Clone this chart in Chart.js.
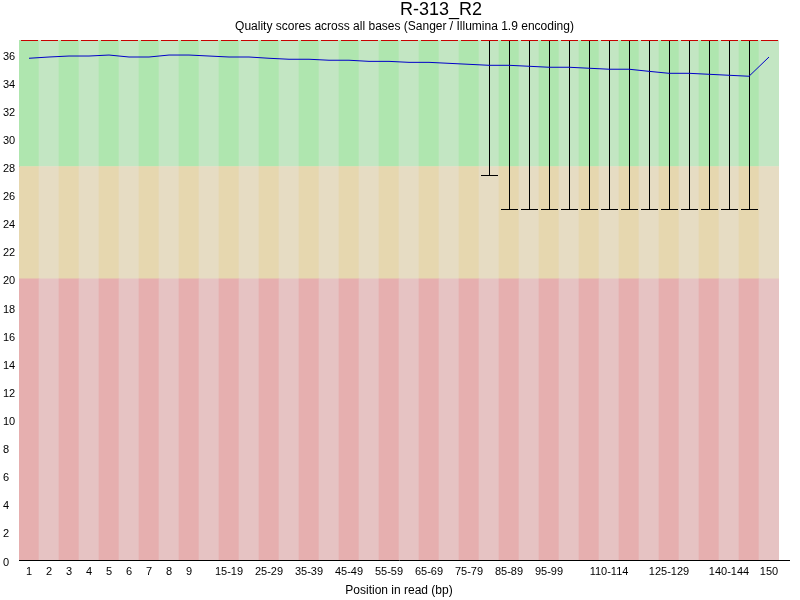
<!DOCTYPE html>
<html><head><meta charset="utf-8">
<script src="https://cdn.jsdelivr.net/npm/chart.js@4/dist/chart.umd.min.js"></script>
<style>html,body{margin:0;padding:0;background:#fff}canvas{display:block}</style>
</head><body>
<canvas id="c" width="800" height="600"></canvas>
<script>
const chartTitle = 'R-313_R2';
const chartSubtitle = 'Quality scores across all bases (Sanger / Illumina 1.9 encoding)';
const xAxisTitle = 'Position in read (bp)';

const categories = ['1','2','3','4','5','6','7','8','9','10-14','15-19','20-24','25-29','30-34','35-39','40-44','45-49','50-54','55-59','60-64','65-69','70-74','75-79','80-84','85-89','90-94','95-99','100-104','105-109','110-114','115-119','120-124','125-129','130-134','135-139','140-144','145-149','150'];
const shownTickLabels = ['1','2','3','4','5','6','7','8','9','15-19','25-29','35-39','45-49','55-59','65-69','75-79','85-89','95-99','110-114','125-129','140-144','150'];

const meanQuality = [35.70,35.79,35.86,35.86,35.93,35.79,35.79,35.93,35.93,35.86,35.79,35.79,35.70,35.63,35.63,35.56,35.56,35.48,35.48,35.41,35.41,35.34,35.27,35.20,35.20,35.13,35.06,35.06,34.99,34.92,34.92,34.77,34.63,34.63,34.56,34.49,34.42,35.79];
const medianQuality = [37,37,37,37,37,37,37,37,37,37,37,37,37,37,37,37,37,37,37,37,37,37,37,37,37,37,37,37,37,37,37,37,37,37,37,37,37,37];
const lowerQuartile = [37,37,37,37,37,37,37,37,37,37,37,37,37,37,37,37,37,37,37,37,37,37,37,37,37,37,37,37,37,37,37,37,37,37,37,37,37,37];
const upperQuartile = [37,37,37,37,37,37,37,37,37,37,37,37,37,37,37,37,37,37,37,37,37,37,37,37,37,37,37,37,37,37,37,37,37,37,37,37,37,37];
const lowerWhisker = [37,37,37,37,37,37,37,37,37,37,37,37,37,37,37,37,37,37,37,37,37,37,37,27.4,25,25,25,25,25,25,25,25,25,25,25,25,25,37];
const upperWhisker = [37,37,37,37,37,37,37,37,37,37,37,37,37,37,37,37,37,37,37,37,37,37,37,37,37,37,37,37,37,37,37,37,37,37,37,37,37,37];

const zoneBounds = [0, 20, 28, 37];
const zoneDark = ['rgb(230,175,175)', 'rgb(230,215,175)', 'rgb(175,230,175)'];
const zoneLight = ['rgb(230,195,195)', 'rgb(230,220,195)', 'rgb(195,230,195)'];

const FONT = "'Liberation Sans', Arial, sans-serif";
Chart.defaults.font.family = FONT;
Chart.defaults.color = '#000';

const zoneDatasets = [0, 1, 2].map(z => ({
  type: 'bar',
  data: categories.map(() => [zoneBounds[z], zoneBounds[z + 1]]),
  backgroundColor: ctx => (ctx.dataIndex % 2 === 0 ? zoneDark[z] : zoneLight[z]),
  borderWidth: 0,
  barPercentage: 1,
  categoryPercentage: 1,
  grouped: false,
  order: 2
}));

const boxPlugin = {
  id: 'boxWhiskers',
  beforeDatasetDraw(chart, args) {
    if (args.meta.type !== 'line') return;
    const xs = chart.scales.x, ys = chart.scales.y, ctx = chart.ctx;
    const px = v => Math.round(ys.getPixelForValue(v)) + 0.5;
    ctx.save();
    ctx.lineWidth = 1;
    categories.forEach((c, i) => {
      const cx = Math.round(xs.getPixelForValue(i)) + 0.5;
      const yLo = px(lowerWhisker[i]), yHi = px(upperWhisker[i]);
      const q1 = px(lowerQuartile[i]), q3 = px(upperQuartile[i]);
      // whisker
      ctx.strokeStyle = '#000';
      ctx.beginPath();
      ctx.moveTo(cx, yHi); ctx.lineTo(cx, yLo);
      ctx.moveTo(cx - 8.5, yLo); ctx.lineTo(cx + 8.5, yLo);
      ctx.moveTo(cx - 8.5, yHi); ctx.lineTo(cx + 8.5, yHi);
      ctx.stroke();
      // box
      if (q1 - q3 > 0) {
        ctx.fillStyle = 'rgb(240,240,0)';
        ctx.fillRect(cx - 8.5, q3, 17, q1 - q3);
        ctx.strokeRect(cx - 8.5, q3, 17, q1 - q3);
      }
      // median
      const ym = px(medianQuality[i]);
      ctx.strokeStyle = 'rgb(200,0,0)';
      ctx.beginPath();
      ctx.moveTo(cx - 8.5, ym); ctx.lineTo(cx + 8.5, ym);
      ctx.stroke();
    });
    ctx.restore();
  },
  afterDraw(chart) {
    const ctx = chart.ctx, a = chart.chartArea;
    ctx.save();
    // x axis line extends beyond plot like the original
    ctx.strokeStyle = '#000';
    ctx.lineWidth = 1;
    ctx.beginPath();
    ctx.moveTo(a.right, Math.round(a.bottom) + 0.5);
    ctx.lineTo(chart.width - 10, Math.round(a.bottom) + 0.5);
    ctx.stroke();
    ctx.fillStyle = '#000';
    ctx.font = '18px ' + FONT;
    ctx.textAlign = 'left';
    ctx.textBaseline = 'alphabetic';
    ctx.fillText(chartTitle, chart.width / 2, 15);
    ctx.font = '12px ' + FONT;
    ctx.textAlign = 'center';
    ctx.fillText(chartSubtitle, (a.left + chart.width - 10) / 2, 30);
    ctx.restore();
  }
};

new Chart(document.getElementById('c'), {
  type: 'bar',
  data: {
    labels: categories,
    datasets: [
      {
        type: 'line',
        data: meanQuality,
        borderColor: 'rgb(0,0,200)',
        borderWidth: 1,
        pointRadius: 0,
        tension: 0,
        fill: false,
        order: 0
      },
      ...zoneDatasets
    ]
  },
  options: {
    responsive: false,
    animation: false,
    devicePixelRatio: 1,
    layout: { padding: { left: 3, right: 21, top: 40, bottom: 0 } },
    plugins: {
      legend: { display: false },
      tooltip: { enabled: false },
      title: { display: false }
    },
    scales: {
      x: {
        type: 'category',
        offset: true,
        grid: { display: false, drawTicks: false, tickLength: 0 },
        border: { display: true, color: '#000', width: 1 },
        ticks: {
          autoSkip: false,
          maxRotation: 0,
          minRotation: 0,
          padding: 5,
          color: '#000',
          font: { size: 11, family: FONT },
          callback: function (value) {
            const label = this.getLabelForValue(value);
            return shownTickLabels.includes(label) ? label : '';
          }
        },
        title: {
          display: true,
          text: xAxisTitle,
          color: '#000',
          font: { size: 12, family: FONT },
          padding: { top: 0, bottom: 2 }
        },
        afterFit: s => { s.height = 40; }
      },
      y: {
        type: 'linear',
        min: 0,
        max: 37,
        grid: { display: false, drawTicks: false },
        border: { display: true, color: '#000', width: 1 },
        ticks: {
          stepSize: 2,
          includeBounds: false,
          crossAlign: 'far',
          labelOffset: 2.5,
          color: '#000',
          font: { size: 11, family: FONT }
        },
        afterFit: s => { s.width = 16; }
      }
    }
  },
  plugins: [boxPlugin]
});
</script>
</body></html>
